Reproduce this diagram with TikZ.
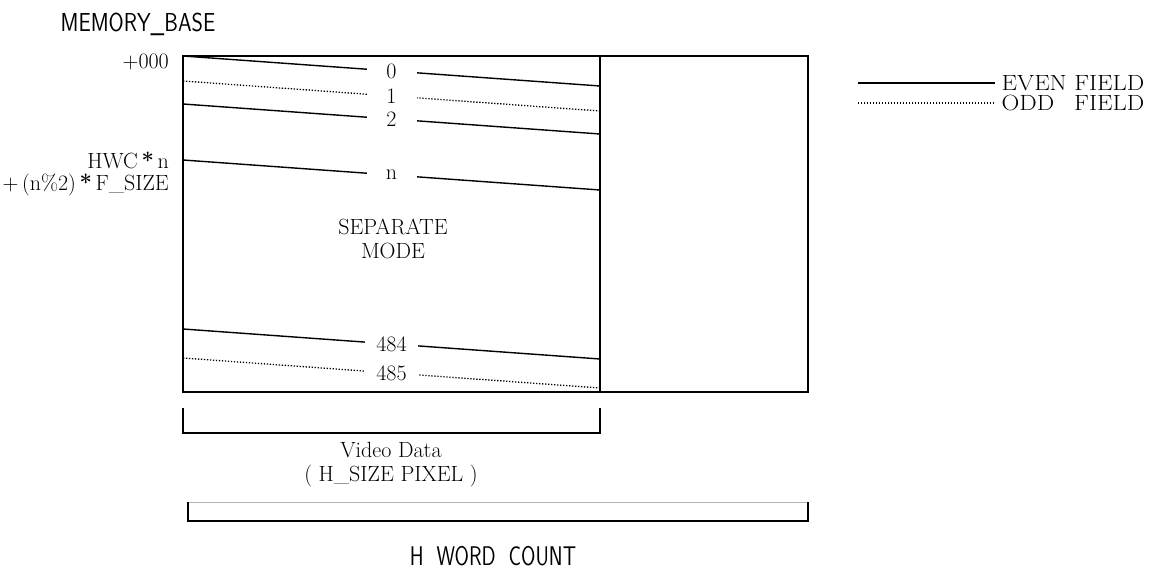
\documentclass[tikz,border=0pt]{standalone}
\usepackage{tikz}
\usetikzlibrary{calc,positioning}
\definecolor{ink}{HTML}{000000}
\definecolor{faint}{HTML}{B4B4B4}

\begin{document}
\begin{tikzpicture}[x=1pt, y=-1pt, every node/.style={font=\fontsize{22}{24}\selectfont, align=center, inner sep=2pt},
  even/.style={ink, line width=1.4pt},
  odd/.style={ink, line width=1.3pt, dash pattern=on 1.3pt off 1.7pt},
  rowlabel/.style={fill=white, inner xsep=11pt, inner ysep=0pt, minimum width=50pt},
  legendtext/.style={anchor=west, inner xsep=6pt, inner ysep=0pt},
  sanslabel/.style={anchor=base, inner sep=0pt, font=\sffamily\fontsize{26}{28}\selectfont}]
\useasboundingbox (0,0) rectangle (1162,569);
\coordinate (tl) at (183,56);
\coordinate (tm) at (600,56);
\coordinate (br) at (808,392);
\coordinate (bm) at (600,392);
\draw[even] (tl) rectangle (br);
\draw[even] (tm) -- (bm);
\foreach \y/\lbl/\kind/\nm in {56/0/even/r0, 81/1/odd/r1, 104/2/even/r2, 160/n/even/rn, 329/484/even/r484, 358/485/odd/r485} {
  \coordinate (\nm-l) at (183,\y);
  \coordinate (\nm-r) at (600,\y+30);
  \draw[\kind] (\nm-l) -- node[rowlabel] (\nm) {\lbl} (\nm-r);
}
\node[sanslabel] (base) at (138,32) {\scalebox{0.84}[1]{MEMORY\_BASE}};
\node[anchor=east] (ofs0) at (171,62) {+000};
\node[anchor=east] (ofsn) at (171,160) {HWC\,\textbf{*}\,n};
\node[anchor=east] (ofsf) at (171,185) {+\,(n\%2)\,\textbf{*}\,F\_SIZE};
\node (mode) at (393,239) {SEPARATE\\MODE};
\coordinate (ev-a) at (858,83);
\coordinate (ev-b) at (995,83);
\coordinate (od-a) at (858,103);
\coordinate (od-b) at (995,103);
\draw[even] (ev-a) -- (ev-b) node[legendtext] (evtxt) {\scalebox{1.12}[1]{EVEN FIELD}};
\draw[odd] (od-a) -- (od-b) node[legendtext] (odtxt) {\scalebox{1.12}[1]{\makebox[0pt][l]{ODD}\phantom{EVEN} FIELD}};
\coordinate (vd-a) at (183,408);
\coordinate (vd-b) at (600,408);
\draw[even] (vd-a) |- (600,433) -- (vd-b);
\node (vdtxt) at (391,465) {Video Data\\( H\_SIZE PIXEL )};
\coordinate (hw-a) at (188,502);
\coordinate (hw-b) at (808,502);
\draw[faint, line width=0.8pt] (hw-a) -- (hw-b);
\draw[even] (hw-a) |- (808,521) -- (hw-b);
\node[sanslabel, font=\sffamily\fontsize{27}{29}\selectfont] (hwc) at (493,565) {\scalebox{0.77}[1]{H\ \ WORD\ \ COUNT}};
\end{tikzpicture}
\end{document}
